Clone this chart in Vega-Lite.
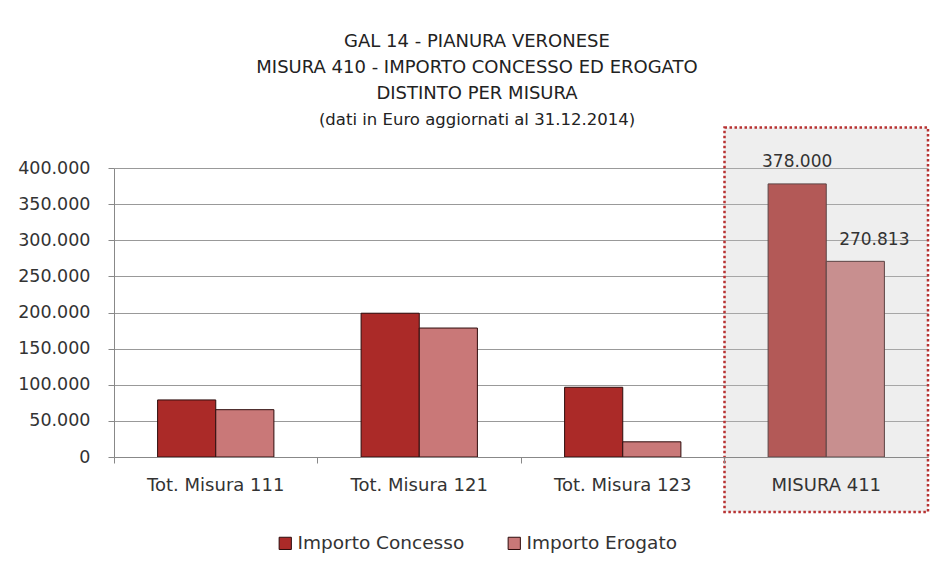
{
  "$schema": "https://vega.github.io/schema/vega-lite/v6.json",
  "width": 814,
  "height": 289,
  "autosize": {"type": "none"},
  "padding": {"left": 114, "top": 168, "right": 18, "bottom": 122},
  "background": "white",
  "config": {
    "font": "DejaVu Sans",
    "view": {"stroke": null},
    "locale": {"number": {"decimal": ",", "thousands": ".", "grouping": [3], "currency": ["€", ""]}}
  },
  "title": {
    "text": ["GAL 14 - PIANURA VERONESE", "MISURA 410 - IMPORTO CONCESSO ED EROGATO", "DISTINTO PER MISURA"],
    "subtitle": "(dati in Euro aggiornati al 31.12.2014)",
    "font": "DejaVu Sans",
    "subtitleFont": "DejaVu Sans",
    "fontSize": 18,
    "fontWeight": "normal",
    "lineHeight": 26,
    "color": "#222",
    "subtitleFontSize": 16.5,
    "subtitleColor": "#222",
    "subtitlePadding": 9,
    "anchor": "middle",
    "dx": -44,
    "offset": -2
  },
  "data": {
    "values": [
      {"misura": "Tot. Misura 111", "serie": "Importo Concesso", "valore": 79000},
      {"misura": "Tot. Misura 111", "serie": "Importo Erogato", "valore": 65500},
      {"misura": "Tot. Misura 121", "serie": "Importo Concesso", "valore": 199000},
      {"misura": "Tot. Misura 121", "serie": "Importo Erogato", "valore": 178500},
      {"misura": "Tot. Misura 123", "serie": "Importo Concesso", "valore": 96500},
      {"misura": "Tot. Misura 123", "serie": "Importo Erogato", "valore": 21000},
      {"misura": "MISURA 411", "serie": "Importo Concesso", "valore": 378000},
      {"misura": "MISURA 411", "serie": "Importo Erogato", "valore": 270813}
    ]
  },
  "encoding": {
    "x": {
      "field": "misura",
      "type": "nominal",
      "sort": ["Tot. Misura 111", "Tot. Misura 121", "Tot. Misura 123", "MISURA 411"],
      "scale": {"paddingInner": 0, "paddingOuter": 0},
      "axis": {
        "title": null,
        "labelAngle": 0,
        "labelFontSize": 18,
        "labelColor": "#333",
        "labelPadding": 13,
        "tickSize": 6,
        "tickColor": "#888",
        "domainColor": "#888",
        "bandPosition": 0,
        "grid": false,
        "zindex": 1
      }
    },
    "y": {
      "field": "valore",
      "type": "quantitative",
      "scale": {"domain": [0, 400000], "nice": false},
      "axis": {
        "title": null,
        "values": [0, 50000, 100000, 150000, 200000, 250000, 300000, 350000, 400000],
        "format": ",d",
        "labelFontSize": 17.5,
        "labelColor": "#333",
        "labelPadding": 18,
        "tickSize": 6,
        "tickColor": "#888",
        "domainColor": "#888",
        "gridColor": "#999",
        "gridWidth": 1.2
      }
    }
  },
  "layer": [
    {
      "mark": {"type": "bar", "stroke": "#2e0c0c", "strokeWidth": 1},
      "encoding": {
        "xOffset": {"field": "serie", "type": "nominal", "scale": {"paddingInner": 0, "paddingOuter": 0.75}},
        "color": {
          "field": "serie",
          "type": "nominal",
          "scale": {"range": ["#ab2a28", "#c97878"]},
          "legend": {
            "title": null,
            "orient": "none",
            "legendX": 162,
            "legendY": 366,
            "direction": "horizontal",
            "symbolType": "square",
            "symbolSize": 150,
            "symbolStrokeColor": "#2e0c0c",
            "symbolStrokeWidth": 1,
            "symbolOpacity": 1,
            "labelFontSize": 18.5,
            "labelLimit": 400,
            "labelColor": "#333",
            "labelOffset": 3,
            "columnPadding": 40
          }
        }
      }
    },
    {
      "transform": [{"filter": "datum.misura == 'MISURA 411' && datum.serie == 'Importo Concesso'"}],
      "mark": {"type": "bar", "fill": "rgba(200,200,200,0.3)", "stroke": "#b83232", "strokeWidth": 2.5, "strokeDash": [2.5, 2.5], "clip": false},
      "encoding": {
        "x": {"datum": "MISURA 411"},
        "y": {"datum": 456000},
        "y2": {"datum": -76000}
      }
    },
    {
      "transform": [{"filter": "datum.misura == 'MISURA 411' && datum.serie == 'Importo Concesso'"}],
      "mark": {"type": "text", "fontSize": 17, "color": "#333", "dy": -13, "baseline": "bottom"},
      "encoding": {
        "xOffset": {"field": "serie", "type": "nominal"},
        "text": {"field": "valore", "type": "quantitative", "format": ",d"}
      }
    },
    {
      "transform": [{"filter": "datum.misura == 'MISURA 411' && datum.serie == 'Importo Erogato'"}],
      "mark": {"type": "text", "fontSize": 17, "color": "#333", "dy": -12, "dx": 19, "baseline": "bottom"},
      "encoding": {
        "xOffset": {"field": "serie", "type": "nominal"},
        "text": {"field": "valore", "type": "quantitative", "format": ",d"}
      }
    }
  ]
}
